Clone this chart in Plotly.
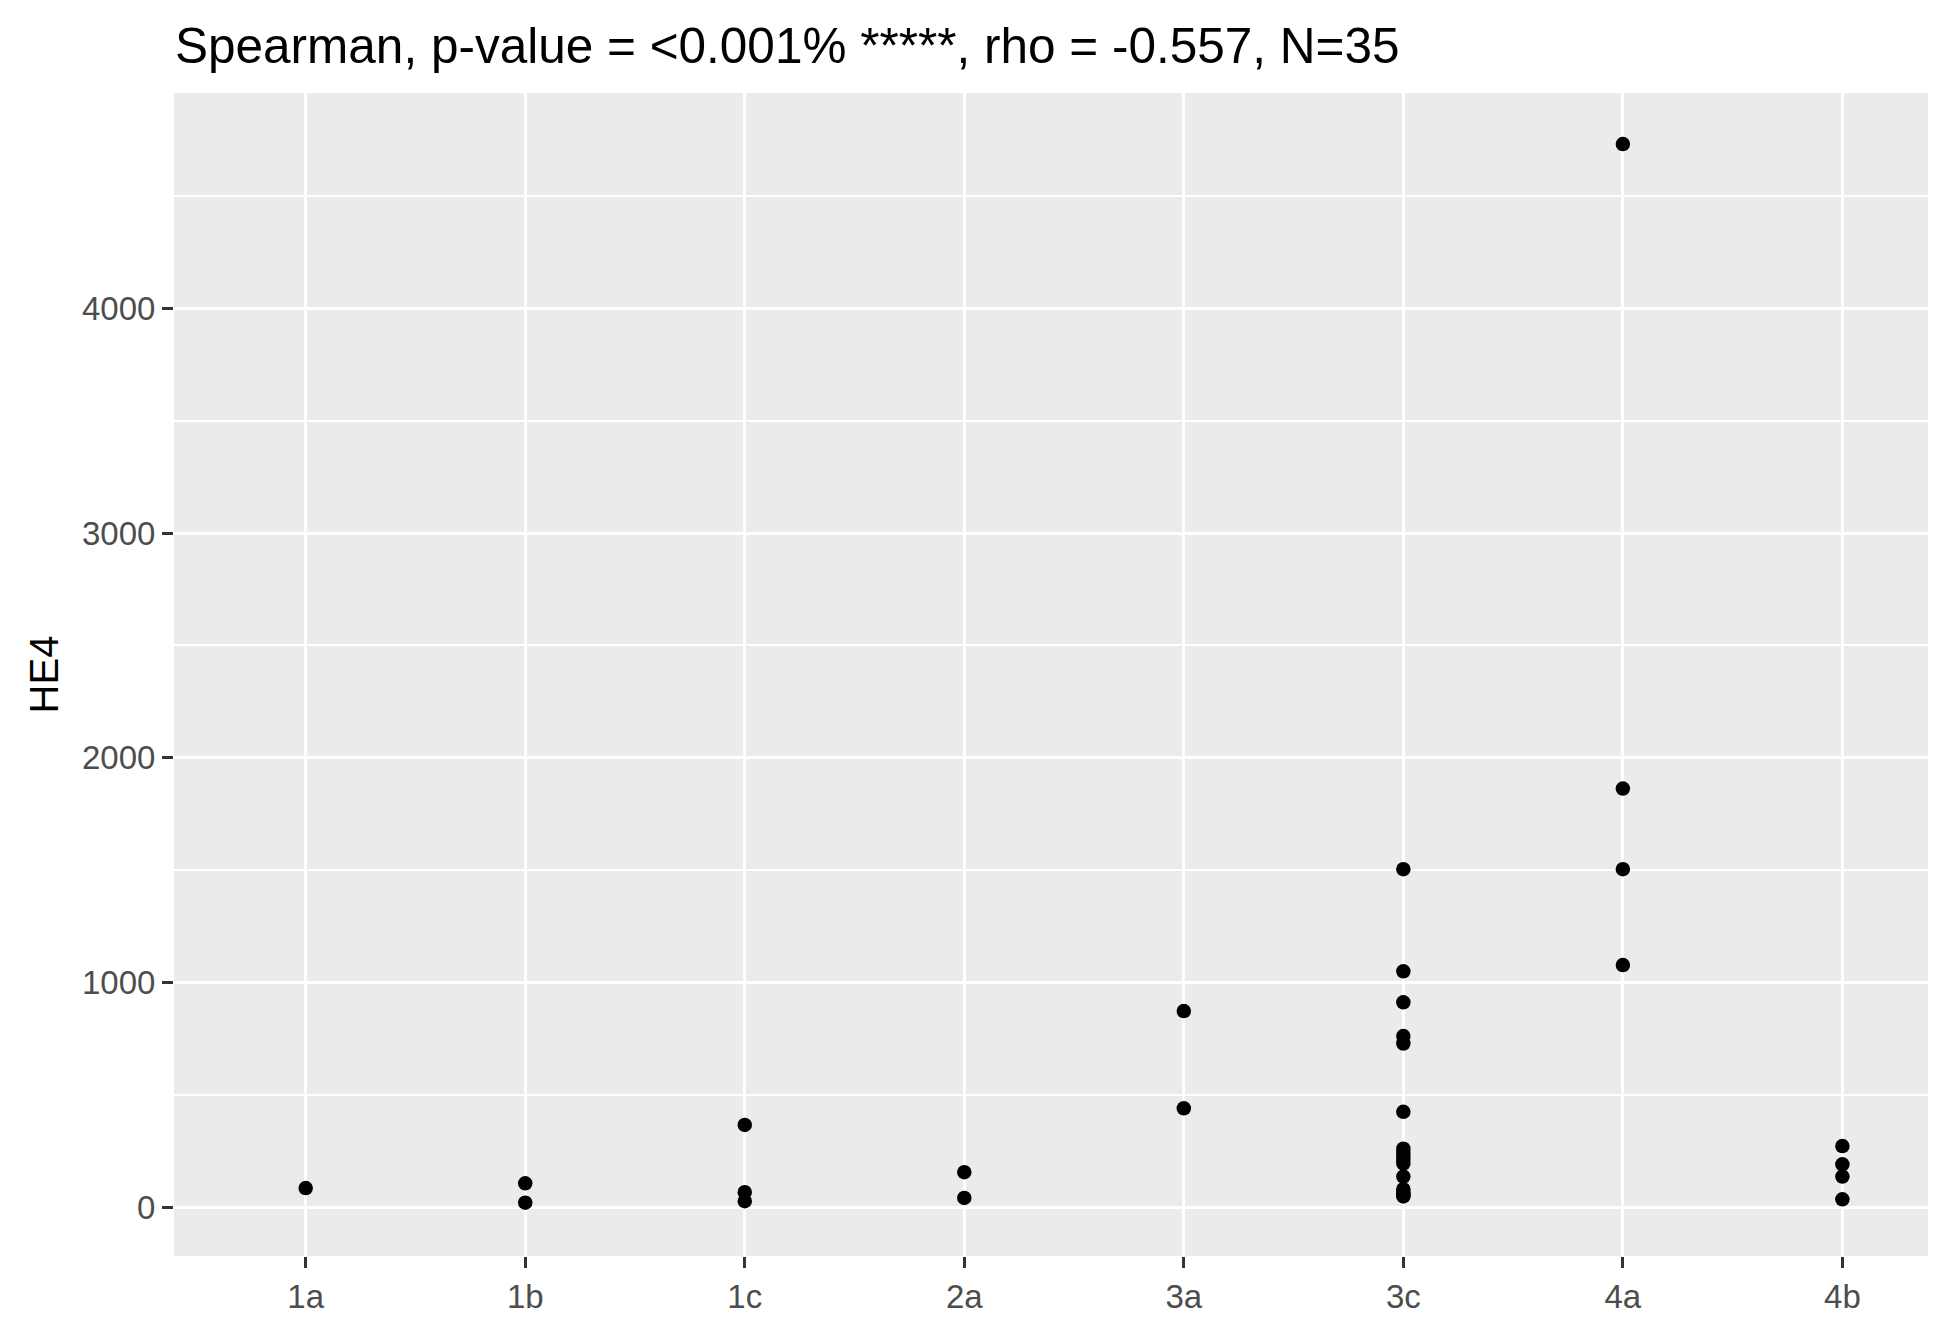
import plotly.graph_objects as go

categories = ["1a", "1b", "1c", "2a", "3a", "3c", "4a", "4b"]

he4_1a = [87]
he4_1b = [108, 22]
he4_1c = [368, 69, 29]
he4_2a = [158, 43]
he4_3a = [874, 442]
he4_3c = [1505, 1051, 913, 763, 730, 426, 262, 245, 228, 212, 196, 138, 82, 70, 62, 55, 50]
he4_4a = [4730, 1864, 1505, 1079]
he4_4b = [274, 193, 138, 37]

groups = [he4_1a, he4_1b, he4_1c, he4_2a, he4_3a, he4_3c, he4_4a, he4_4b]

xs, ys = [], []
for cat, vals in zip(categories, groups):
    for v in vals:
        xs.append(cat)
        ys.append(v)

title_text = "Spearman, p-value = <0.001% *****, rho = -0.557, N=35"

fig = go.Figure()
fig.add_trace(go.Scatter(
    x=xs, y=ys, mode="markers",
    marker=dict(color="black", size=14.5, line=dict(width=0)),
    showlegend=False,
))

font_family = "Liberation Sans, Arial, sans-serif"

# page body has an 8px margin, so layout values are offset by 8px
fig.update_layout(
    width=1950, height=1325,
    paper_bgcolor="white",
    plot_bgcolor="#EBEBEB",
    margin=dict(l=166, r=30, t=85, b=77),
    font=dict(family=font_family, color="#4D4D4D"),
    title=dict(
        text=title_text,
        x=167 / 1950, xanchor="left", xref="container",
        y=1 - 38 / 1325, yanchor="middle", yref="container",
        font=dict(size=49.5, color="black", family=font_family),
    ),
    xaxis=dict(
        type="category",
        categoryorder="array", categoryarray=categories,
        range=[-0.6, 7.39],
        showgrid=True, gridcolor="white", gridwidth=3,
        zeroline=False, showline=False,
        ticks="outside", ticklen=11, tickwidth=2.7, tickcolor="#333333",
        tickfont=dict(size=33, color="#4D4D4D"),
        title=None,
    ),
    yaxis=dict(
        range=[-215, 4957],
        tickmode="array", tickvals=[0, 1000, 2000, 3000, 4000],
        showgrid=True, gridcolor="white", gridwidth=3,
        minor=dict(tickvals=[500, 1500, 2500, 3500, 4500], showgrid=True,
                   gridcolor="white", gridwidth=1.5, ticks=""),
        zeroline=False, showline=False,
        ticks="outside", ticklen=11, tickwidth=2.7, tickcolor="#333333",
        tickfont=dict(size=33, color="#4D4D4D"),
        title=dict(text="HE4", font=dict(size=40, color="black"), standoff=10),
    ),
)

fig.write_html("out.html")
